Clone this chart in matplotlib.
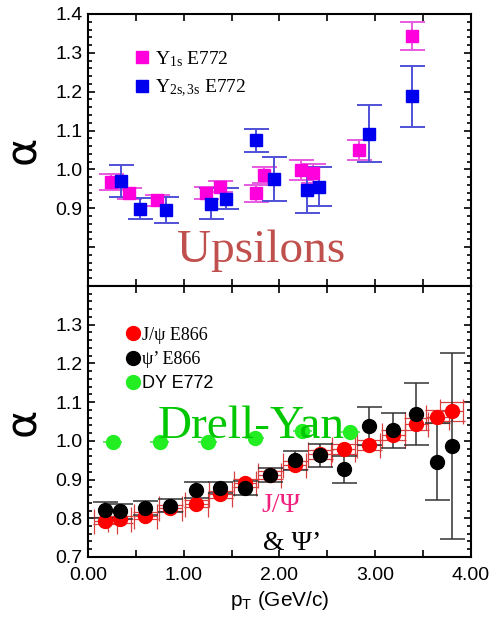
import matplotlib
matplotlib.use("Agg")
import matplotlib.pyplot as plt
from matplotlib.lines import Line2D
import numpy as np

plt.rcParams['font.family'] = ['Liberation Sans', 'DejaVu Sans']
plt.rcParams['mathtext.fontset'] = 'custom'
plt.rcParams['mathtext.rm'] = 'Liberation Serif'
plt.rcParams['mathtext.sf'] = 'Liberation Sans'
plt.rcParams['mathtext.it'] = 'Liberation Serif:italic'

# ---- upsilon data (E772) ----
y1s_pt = [0.24, 0.43, 0.72, 1.23, 1.38, 1.76, 1.84, 2.22, 2.35, 2.83, 3.38]
y1s_alpha = [0.968, 0.938, 0.920, 0.939, 0.956, 0.938, 0.986, 0.999, 0.990, 1.050, 1.343]
y1s_err = [0.021, 0.015, 0.015, 0.016, 0.013, 0.022, 0.020, 0.026, 0.024, 0.026, 0.036]

y23s_pt = [0.34, 0.54, 0.82, 1.29, 1.44, 1.76, 1.94, 2.29, 2.41, 2.93, 3.38]
y23s_alpha = [0.970, 0.899, 0.896, 0.912, 0.925, 1.075, 0.975, 0.947, 0.956, 1.092, 1.188]
y23s_err = [0.042, 0.027, 0.034, 0.040, 0.026, 0.030, 0.057, 0.060, 0.050, 0.073, 0.079]

# ---- charmonium (E866) and Drell-Yan (E772) ----
jpsi_pt = [0.18, 0.33, 0.60, 0.86, 1.13, 1.38, 1.64, 1.90, 2.16, 2.42, 2.67, 2.93, 3.19, 3.43, 3.65, 3.80]
jpsi_alpha = [0.794, 0.797, 0.807, 0.826, 0.838, 0.862, 0.891, 0.912, 0.938, 0.965, 0.978, 0.989, 1.015, 1.043, 1.062, 1.076]
jpsi_err = [0.008, 0.008, 0.008, 0.008, 0.009, 0.009, 0.010, 0.010, 0.011, 0.012, 0.013, 0.013, 0.014, 0.016, 0.017, 0.024]

psip_pt = [0.18, 0.33, 0.60, 0.86, 1.13, 1.38, 1.64, 1.90, 2.16, 2.42, 2.67, 2.93, 3.19, 3.43, 3.65, 3.80]
psip_alpha = [0.821, 0.818, 0.826, 0.832, 0.873, 0.879, 0.878, 0.912, 0.950, 0.963, 0.926, 1.038, 1.027, 1.070, 0.946, 0.986]
psip_err = [0.020, 0.020, 0.018, 0.017, 0.020, 0.015, 0.019, 0.019, 0.025, 0.030, 0.035, 0.049, 0.045, 0.080, 0.100, 0.240]

dy_pt = [0.26, 0.75, 1.25, 1.74, 2.24, 2.74]
dy_alpha = [0.996, 0.996, 0.997, 1.008, 1.025, 1.023]
dy_err = [0.005, 0.005, 0.005, 0.006, 0.007, 0.008]

xticks = [0.0, 0.5, 1.0, 1.5, 2.0, 2.5, 3.0, 3.5, 4.0]
xticklabels = ['0.00', '', '1.00', '', '2.00', '', '3.00', '', '4.00']
yticks = [0.7, 0.8, 0.9, 1.0, 1.1, 1.2, 1.3, 1.4]
top_yticklabels = ['', '', '0.9', '1.0', '1.1', '1.2', '1.3', '1.4']
bot_yticklabels = ['0.7', '0.8', '0.9', '1.0', '1.1', '1.2', '1.3', '']

fig = plt.figure(figsize=(4.91, 6.24), dpi=100)
ax1 = fig.add_axes([0.1792, 0.5417, 0.780, 0.4359])
ax2 = fig.add_axes([0.1792, 0.1074, 0.780, 0.4343])


def style(ax, ylabels):
    ax.set_xlim(0, 4)
    ax.set_ylim(0.7, 1.4)
    ax.set_xticks(xticks)
    ax.set_yticks(yticks)
    ax.set_yticklabels(ylabels)
    ax.set_yticks(np.arange(0.7, 1.4001, 0.02), minor=True)
    ax.tick_params(which='both', direction='in', top=True, right=True, width=1.2,
                   labelsize=14)
    ax.tick_params(which='major', length=5)
    ax.tick_params(which='minor', length=3)
    ax.tick_params(axis='y', pad=4)
    ax.tick_params(axis='x', pad=7)
    for s in ax.spines.values():
        s.set_linewidth(1.5)
    ax.set_ylabel('α', fontsize=31, family='DejaVu Sans')
    ax.yaxis.set_label_coords(-0.115, 0.5)


style(ax1, top_yticklabels)
style(ax2, bot_yticklabels)
ax1.set_xticklabels([])
ax2.set_xticklabels(xticklabels)

# top panel
ax1.errorbar(y1s_pt, y1s_alpha, yerr=y1s_err, fmt='s', ms=9, color='#FF00DD',
             ecolor='#E85AE0', elinewidth=1.4, capsize=9, capthick=1.4)
ax1.errorbar(y23s_pt, y23s_alpha, yerr=y23s_err, fmt='s', ms=9, color='#0000EE',
             ecolor='#5050D8', elinewidth=1.4, capsize=9, capthick=1.4)
h1 = [Line2D([], [], marker='s', ls='none', ms=9, color='#FF00DD'),
      Line2D([], [], marker='s', ls='none', ms=9, color='#0000EE')]
leg1 = ax1.legend(h1, [r'Y$_{\rm 1s}$ E772', r'Y$_{\rm 2s,3s}$ E772'],
                  loc='upper left', bbox_to_anchor=(0.075, 0.935), frameon=False,
                  handlelength=0.8, handletextpad=0.25, labelspacing=0.45,
                  prop={'family': 'Liberation Serif', 'size': 14})
ax1.text(0.232, 0.088, 'Upsilons', transform=ax1.transAxes, family='Liberation Serif',
         fontsize=34, color='#C0504D', va='baseline')

# bottom panel
ax2.errorbar(jpsi_pt, jpsi_alpha, yerr=jpsi_err, xerr=0.12, fmt='o', ms=10, color='#FF0000',
             ecolor='#D84040', elinewidth=0.9, capsize=9, capthick=0.9)
ax2.errorbar(psip_pt, psip_alpha, yerr=psip_err, fmt='o', ms=10, color='#000000',
             ecolor='#333333', elinewidth=1.1, capsize=9, capthick=1.1)
ax2.errorbar(dy_pt, dy_alpha, yerr=dy_err, xerr=0.1, fmt='o', ms=10, color='#22EE22',
             ecolor='#44DD44', elinewidth=1.1)
h2 = [Line2D([], [], marker='o', ls='none', ms=10, color='#FF0000'),
      Line2D([], [], marker='o', ls='none', ms=10, color='#000000'),
      Line2D([], [], marker='o', ls='none', ms=10, color='#22EE22')]
leg2 = ax2.legend(h2, ['J/ψ E866', 'ψ’ E866', 'DY E772'],
                  loc='upper left', bbox_to_anchor=(0.055, 0.91), frameon=False,
                  handlelength=0.8, handletextpad=0.1, labelspacing=0.4,
                  prop={'family': 'Liberation Serif', 'size': 13})
leg2.get_texts()[2].set_family('Liberation Sans')
ax2.text(0.183, 0.439, 'Drell-Yan', transform=ax2.transAxes, family='Liberation Serif',
         fontsize=34, color='#00C800', va='baseline')
ax2.text(0.454, 0.166, 'J/Ψ', transform=ax2.transAxes, family='Liberation Serif',
         fontsize=20, color='#F0207F', va='baseline')
ax2.text(0.457, 0.026, '& Ψ’', transform=ax2.transAxes, family='Liberation Serif',
         fontsize=20, color='black', va='baseline')
ax2.set_xlabel(r'p$_{\sf T}$ (GeV/c)', fontsize=15)

fig.savefig('out.png', dpi=100)
